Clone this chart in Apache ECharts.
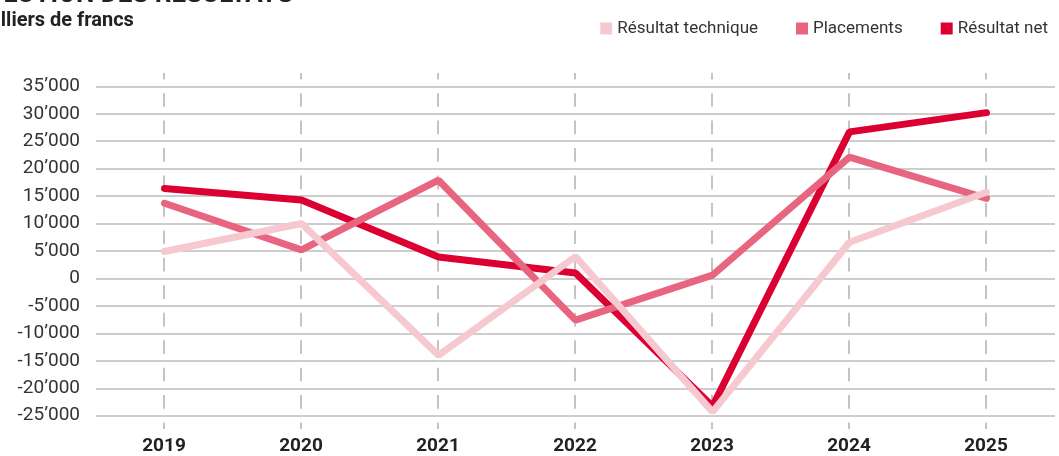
<!DOCTYPE html>
<html>
<head>
<meta charset="utf-8">
<script src="https://cdn.jsdelivr.net/npm/echarts@6/dist/echarts.min.js"></script>
<style>
  html, body { margin: 0; padding: 0; background: #fff; }
  #chart { width: 1059px; height: 456px; }
</style>
</head>
<body>
<div id="chart"></div>
<script>
// en milliers de francs
var years = ["2019", "2020", "2021", "2022", "2023", "2024", "2025"];
var resultatTechnique = [4900, 10000, -14000, 4000, -24300, 6600, 15700];
var placements = [13700, 5200, 17900, -7600, 600, 22100, 14600];
var resultatNet = [16400, 14300, 3900, 1000, -23300, 26700, 30200];

var colTech = "#f6c8d0";
var colPlac = "#e8657f";
var colNet = "#dc0032";

var myChart = echarts.init(document.getElementById("chart"));

function fmt(v) {
  var s = String(Math.abs(v));
  s = s.replace(/\B(?=(\d{3})+(?!\d))/g, "\u2019");
  return (v < 0 ? "-" : "") + s;
}

var option = {
  animation: false,
  textStyle: { fontFamily: "Roboto" },
  graphic: [
    {
      type: "text",
      x: 293,
      y: -5,
      style: {
        text: "ÉVOLUTION DES RÉSULTATS",
        font: "bold 26px Roboto",
        fill: "#222",
        align: "right",
        verticalAlign: "middle"
      }
    },
    {
      type: "text",
      x: -22,
      y: 21,
      style: {
        text: "Milliers de francs",
        font: "bold 20px Roboto",
        fill: "#222",
        align: "left",
        verticalAlign: "middle"
      }
    }
  ],
  legend: {
    data: ["Résultat technique", "Placements", "Résultat net"],
    right: 6,
    top: 15,
    icon: "rect",
    itemWidth: 12,
    itemHeight: 12,
    itemGap: 38,
    textStyle: { fontSize: 17, color: "#333", fontFamily: "Roboto" }
  },
  grid: [
    { left: 96, width: 959, top: 86.3, height: 329.4 },
    { left: 164, width: 822, top: 73, height: 357 }
  ],
  xAxis: [
    {
      type: "category",
      gridIndex: 0,
      data: years,
      boundaryGap: true,
      axisLine: { show: false },
      axisTick: { show: false },
      axisLabel: { show: false },
      splitLine: { show: false }
    },
    {
      type: "category",
      gridIndex: 1,
      data: years,
      boundaryGap: false,
      axisLine: { show: false },
      axisTick: { show: false },
      axisLabel: {
        margin: 8,
        fontSize: 19,
        fontWeight: "bold",
        color: "#222",
        fontFamily: "Roboto"
      },
      splitLine: {
        show: true,
        lineStyle: {
          color: "#c4c4c4",
          width: 2,
          type: [13.72, 13.73],
          dashOffset: 7.3
        }
      }
    }
  ],
  yAxis: [
    {
      type: "value",
      gridIndex: 0,
      min: -25000,
      max: 35000,
      interval: 5000,
      axisLine: { show: false },
      axisTick: { show: false },
      axisLabel: {
        margin: 16,
        fontSize: 19,
        color: "#333",
        fontFamily: "Roboto",
        formatter: fmt
      },
      splitLine: { lineStyle: { color: "#bdbdbd", width: 1.5 } }
    },
    {
      type: "value",
      gridIndex: 1,
      show: false,
      splitLine: { show: false }
    }
  ],
  series: [
    {
      name: "Résultat net",
      type: "line",
      xAxisIndex: 0,
      yAxisIndex: 0,
      data: resultatNet,
      showSymbol: false,
      color: colNet,
      lineStyle: { width: 7, color: colNet, cap: "round" }
    },
    {
      name: "Placements",
      type: "line",
      xAxisIndex: 0,
      yAxisIndex: 0,
      data: placements,
      showSymbol: false,
      color: colPlac,
      lineStyle: { width: 7, color: colPlac, cap: "round" }
    },
    {
      name: "Résultat technique",
      type: "line",
      xAxisIndex: 0,
      yAxisIndex: 0,
      data: resultatTechnique,
      showSymbol: false,
      color: colTech,
      lineStyle: { width: 7, color: colTech, cap: "round" }
    }
  ]
};

myChart.setOption(option);
</script>
</body>
</html>
